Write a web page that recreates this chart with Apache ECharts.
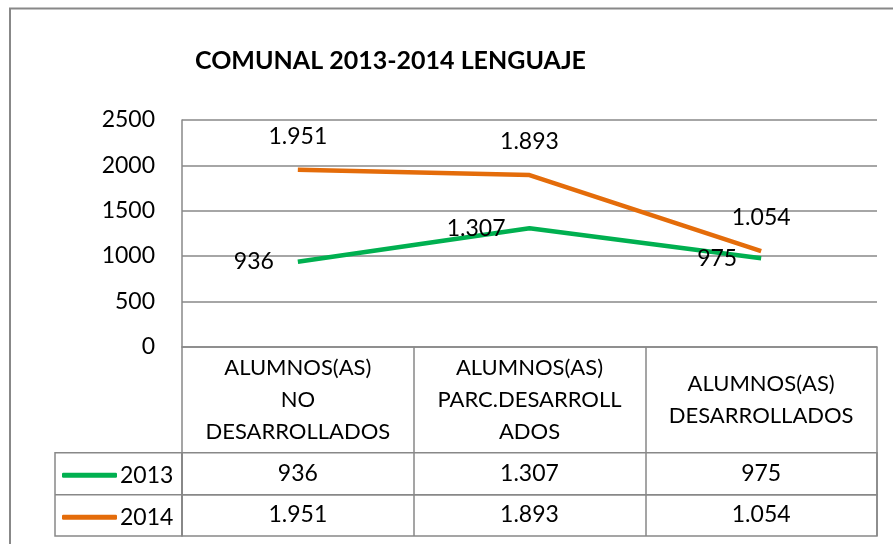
<!DOCTYPE html>
<html>
<head>
<meta charset="utf-8">
<title>COMUNAL 2013-2014 LENGUAJE</title>
<script src="https://cdn.jsdelivr.net/npm/echarts@6/dist/echarts.min.js"></script>
<style>
  html, body { margin: 0; padding: 0; background: #fff; }
  #chart { width: 893px; height: 544px; }
</style>
</head>
<body>
<div id="chart"></div>
<script>
// datos
const categories = [
  "ALUMNOS(AS)\nNO\nDESARROLLADOS",
  "ALUMNOS(AS)\nPARC.DESARROLL\nADOS",
  "ALUMNOS(AS)\nDESARROLLADOS",
];
const years = ["2013", "2014"];
const values2013 = [936, 1307, 975];
const values2014 = [1951, 1893, 1054];
const yTicks = { min: 0, max: 2500, interval: 500 };

const FONT = "Lato";
const GRAY = "#888888";
const GREEN = "#00B050";
const ORANGE = "#E46C0A";

// 1951 -> "1.951"
function fmt(n) {
  return String(n).replace(/\B(?=(\d{3})+(?!\d))/g, ".");
}

const chart = echarts.init(document.getElementById("chart"));

// fila de la tabla de datos: eje de categorías cuyo texto son los valores
function rowAxis(gridIndex, values) {
  return {
    type: "category",
    gridIndex: gridIndex,
    data: values.map(fmt),
    boundaryGap: true,
    axisLine: { show: false },
    axisTick: { show: false },
    axisLabel: {
      inside: true,
      interval: 0,
      margin: 21,
      verticalAlign: "middle",
      color: "#000",
      fontFamily: FONT,
      fontSize: 23,
    },
  };
}

// etiqueta de datos sobre la línea
function pointLabel(position, distance) {
  return {
    show: true,
    position: position,
    distance: distance,
    formatter: (p) => fmt(p.value),
    color: "#000",
    fontFamily: FONT,
    fontSize: 23,
  };
}

const option = {
  animation: false,
  title: {
    text: "COMUNAL 2013-2014 LENGUAJE",
    left: 190,
    top: 43,
    textStyle: { fontFamily: FONT, fontSize: 25, fontWeight: "bold", color: "#000" },
  },
  legend: {
    data: years,
    orient: "vertical",
    left: 57,
    top: 458.7,
    itemWidth: 55,
    itemHeight: 5,
    itemGap: 19,
    icon: "roundRect",
    textStyle: { fontFamily: FONT, fontSize: 23, lineHeight: 23, color: "#000", padding: [0, 0, 0, -2] },
  },
  grid: [
    { left: 182, right: 16, top: 120, height: 226.7 },
    // filas 2013 y 2014
    { left: 182, right: 16, top: 452.7, height: 42, show: true, borderColor: GRAY, borderWidth: 1.5 },
    { left: 182, right: 16, top: 494.7, height: 41.3, show: true, borderColor: GRAY, borderWidth: 1.5 },
  ],
  xAxis: [
    {
      type: "category",
      gridIndex: 0,
      data: categories,
      boundaryGap: true,
      axisLine: { lineStyle: { color: GRAY, width: 1.5 } },
      axisTick: { show: true, interval: 0, length: 189.3, lineStyle: { color: GRAY, width: 1.5 } },
      axisLabel: {
        interval: 0,
        margin: 53,
        verticalAlign: "middle",
        lineHeight: 32,
        color: "#000",
        fontFamily: FONT,
        fontSize: 22,
      },
    },
    rowAxis(1, values2013),
    rowAxis(2, values2014),
  ],
  yAxis: [
    {
      type: "value",
      gridIndex: 0,
      min: yTicks.min,
      max: yTicks.max,
      interval: yTicks.interval,
      axisLine: { show: true, lineStyle: { color: GRAY, width: 1.5 } },
      axisTick: { show: false },
      splitLine: { lineStyle: { color: GRAY, width: 1.5 } },
      axisLabel: {
        margin: 27,
        formatter: (v) => String(v),
        color: "#000",
        fontFamily: FONT,
        fontSize: 23,
      },
    },
    { type: "value", gridIndex: 1, show: false },
    { type: "value", gridIndex: 2, show: false },
  ],
  series: [
    {
      name: years[0],
      type: "line",
      data: values2013,
      symbol: "circle",
      symbolSize: 0,
      color: GREEN,
      lineStyle: { width: 4.5, color: GREEN },
      label: pointLabel("left", 24),
    },
    {
      name: years[1],
      type: "line",
      data: values2014,
      symbol: "circle",
      symbolSize: 0,
      color: ORANGE,
      lineStyle: { width: 4.5, color: ORANGE },
      label: pointLabel("top", 22),
    },
  ],
  graphic: [
    // marco exterior del gráfico (sigue fuera de la imagen por la derecha y abajo)
    {
      type: "rect",
      z: -10,
      shape: { x: 10, y: 8.5, width: 1000, height: 1000 },
      style: { fill: "none", stroke: GRAY, lineWidth: 2 },
    },
    // celdas de la leyenda en la tabla
    {
      type: "rect",
      shape: { x: 55, y: 452.7, width: 127, height: 83.3 },
      style: { fill: "none", stroke: GRAY, lineWidth: 1.5 },
    },
    {
      type: "line",
      shape: { x1: 55, y1: 494.7, x2: 182, y2: 494.7 },
      style: { stroke: GRAY, lineWidth: 1.5 },
    },
  ],
};

chart.setOption(option);
</script>
</body>
</html>
